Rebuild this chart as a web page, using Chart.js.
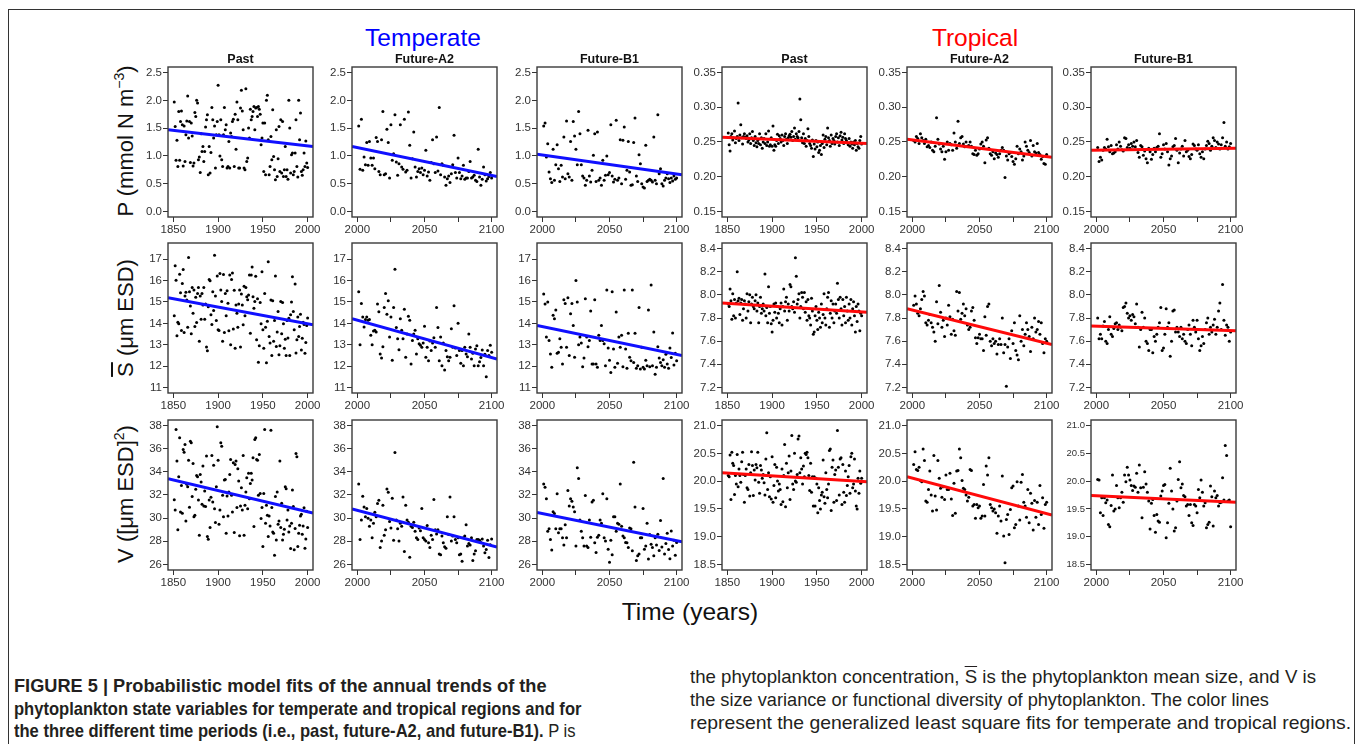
<!DOCTYPE html>
<html>
<head>
<meta charset="utf-8">
<script src="https://cdn.jsdelivr.net/npm/chart.js@4.4.1/dist/chart.umd.min.js"></script>
<style>
  html, body { margin: 0; padding: 0; background: #fff; }
  #fig { position: relative; width: 1357px; height: 744px; overflow: hidden; font-family: "Liberation Sans", Arial, sans-serif; }
  #fig canvas { position: absolute; }
  .frame { position: absolute; left: 8px; top: 9px; width: 1347px; height: 800px; border: 1.5px solid #333; box-sizing: border-box; }
  .txt { position: absolute; white-space: nowrap; transform: translate(-50%, -50%); }
  .region { font-size: 24.5px; }
  .ptitle { font-size: 12.5px; font-weight: bold; color: #111; }
  .ytitle { font-size: 22px; color: #111; transform: translate(-50%, -50%) rotate(-90deg); }
  .ytitle sup { font-size: 14px; vertical-align: 9px; line-height: 0; }
  .ov { text-decoration: overline; }
  .xtitle { font-size: 24.5px; color: #111; }
  .cap { position: absolute; white-space: nowrap; font-family: "Liberation Sans", Arial, sans-serif; font-size: 18.2px; color: #231f20; line-height: 22px; transform-origin: left center; }
  .cap b { font-weight: bold; }
</style>
</head>
<body>
<div id="fig">
  <div class="frame"></div>

  <div class="txt region" style="left:423px; top:38px; color:#0000ff;">Temperate</div>
  <div class="txt region" style="left:975px; top:38px; color:#ff0000;">Tropical</div>

  <div class="txt ytitle" style="left:126px; top:141px;">P (mmol N m<sup>−3</sup>)</div>
  <div class="txt ytitle" style="left:126px; top:318px;"><span class="ov">S</span> (μm ESD)</div>
  <div class="txt ytitle" style="left:126px; top:494px;">V ([μm ESD]<sup>2</sup>)</div>

  <div class="txt xtitle" style="left:690px; top:612px;">Time (years)</div>

  <div class="cap" style="left:14px; top:675px;"><b>FIGURE 5 | Probabilistic model fits of the annual trends of the</b></div>
  <div class="cap" style="left:14px; top:698px; transform: scaleX(0.91);"><b>phytoplankton state variables for temperate and tropical regions and for</b></div>
  <div class="cap" style="left:14px; top:720px; transform: scaleX(0.91);"><b>the three different time periods (i.e., past, future-A2, and future-B1).</b> P is</div>
  <div class="cap" style="left:690px; top:666px; transform: scaleX(1.025);">the phytoplankton concentration, <span class="ov">S</span> is the phytoplankton mean size, and V is</div>
  <div class="cap" style="left:690px; top:689px;">the size variance or functional diversity of phytoplankton. The color lines</div>
  <div class="cap" style="left:690px; top:712px; transform: scaleX(1.065);">represent the generalized least square fits for temperate and tropical regions.</div>
</div>

<script>
// ---- periods and axis ticks ----
const periods = ['Past', 'Future-A2', 'Future-B1'];
const pastStart = 1851;
const futureStart = 2001;
const pastRange = [1844, 2006];
const futureRange = [1996, 2104];
const pastTicks = [1850, 1900, 1950, 2000];
const futureTicks = [2000, 2025, 2050, 2075, 2100];
const futureLabels = [2000, 2050, 2100];

const tempPTicks = [0, 0.5, 1, 1.5, 2, 2.5];
const tropPTicks = [0.15, 0.2, 0.25, 0.3, 0.35];
const tempSTicks = [11, 12, 13, 14, 15, 16, 17];
const tropSTicks = [7.2, 7.4, 7.6, 7.8, 8.0, 8.2, 8.4];
const tempVTicks = [26, 28, 30, 32, 34, 36, 38];
const tropVTicks = [18.5, 19.0, 19.5, 20.0, 20.5, 21.0];

// ---- annual values, P (mmol N m-3) ----
const tempPPast = [
  1.97,1.53,0.92,1.28,0.81,1.80,0.92,1.62,1.81,1.56,
  0.82,1.54,0.90,1.38,1.63,2.08,1.32,1.62,0.88,1.59,
  1.36,0.82,0.87,1.78,1.71,2.00,1.95,0.93,0.98,0.70,
  1.40,1.08,1.17,0.90,1.08,1.52,1.65,1.74,0.66,1.17,
  0.69,1.06,1.87,1.65,1.32,1.54,0.78,1.38,1.62,2.27,
  1.38,1.00,1.65,0.93,0.81,1.38,1.87,1.47,1.56,0.78,
  0.81,1.26,0.78,1.41,1.35,1.62,1.66,0.81,1.75,1.12,
  1.97,1.65,0.78,0.78,1.86,2.18,1.81,1.47,0.78,0.75,
  2.21,0.90,0.96,1.50,1.32,1.84,1.65,1.71,1.80,1.89,
  1.47,1.86,1.87,1.71,1.89,1.84,1.75,1.20,1.32,1.59,
  0.72,1.59,0.66,2.00,2.09,1.29,0.66,0.81,1.35,0.93,
  1.83,0.99,0.75,0.57,1.47,0.63,0.95,1.53,0.72,1.65,
  0.69,1.62,0.63,0.75,1.17,0.63,0.75,0.58,2.00,1.50,
  0.69,1.02,1.05,0.66,0.72,1.05,1.65,0.81,0.62,2.00,
  1.29,1.77,0.72,0.65,0.75,1.05,0.81,1.27,0.87,0.79
];
const tempPA2 = [
  1.54,0.76,1.66,0.74,0.98,0.84,1.24,0.83,1.26,0.96,
  0.83,0.96,0.77,1.33,1.26,0.72,0.66,1.29,1.80,0.66,
  0.68,1.48,1.24,0.60,1.56,0.92,1.04,1.74,0.89,0.65,
  0.86,1.56,0.80,0.76,1.66,0.71,0.74,1.79,1.19,0.60,
  0.95,1.43,0.80,0.62,0.72,0.77,0.70,0.78,0.66,0.74,
  1.10,0.64,0.71,0.56,0.88,1.29,0.86,0.70,1.34,0.73,
  1.87,0.66,0.86,0.83,0.62,0.47,0.59,0.64,0.52,0.68,
  0.84,1.37,0.70,0.60,0.96,0.70,0.59,0.64,0.83,0.58,
  0.60,0.60,0.72,0.90,0.60,0.62,0.65,0.56,0.54,1.12,
  0.62,0.47,0.58,0.80,0.66,0.55,0.59,0.63,0.70,0.60
];
const tempPB1 = [
  1.54,1.59,0.98,1.22,0.71,0.59,0.52,1.12,0.56,0.84,
  1.20,0.77,0.54,0.83,0.62,1.34,0.59,1.63,0.68,0.62,
  1.26,0.56,1.62,1.36,1.12,0.84,1.80,1.40,0.84,0.64,
  0.60,0.47,0.56,1.46,0.64,0.53,0.74,1.01,1.40,0.54,
  1.43,0.56,0.60,0.47,0.92,0.56,0.65,1.00,0.66,0.70,
  1.56,0.64,0.53,0.58,1.64,0.56,0.60,1.29,0.50,1.28,
  1.52,0.58,0.74,1.26,0.71,0.47,0.48,1.24,1.68,0.64,
  0.54,1.02,0.86,0.50,0.44,0.42,1.19,0.54,0.56,0.58,
  0.56,0.53,1.34,0.56,0.50,1.74,0.68,0.77,0.50,0.46,
  0.56,0.60,0.68,0.59,0.52,0.60,0.55,0.64,0.58,0.60
];
const tropPPast = [
  0.263,0.246,0.237,0.258,0.262,0.253,0.256,0.266,0.249,0.255,
  0.258,0.306,0.252,0.260,0.275,0.256,0.247,0.258,0.262,0.257,
  0.255,0.259,0.250,0.253,0.262,0.248,0.256,0.265,0.252,0.245,
  0.258,0.249,0.243,0.252,0.248,0.262,0.246,0.256,0.241,0.250,
  0.255,0.248,0.262,0.245,0.250,0.266,0.244,0.246,0.256,0.244,
  0.273,0.238,0.246,0.244,0.252,0.261,0.248,0.259,0.255,0.250,
  0.260,0.252,0.245,0.258,0.262,0.254,0.248,0.256,0.259,0.261,
  0.257,0.265,0.252,0.258,0.270,0.254,0.262,0.258,0.256,0.265,
  0.312,0.282,0.256,0.249,0.262,0.248,0.255,0.244,0.252,0.269,
  0.258,0.248,0.245,0.241,0.253,0.229,0.247,0.240,0.252,0.243,
  0.250,0.235,0.238,0.245,0.232,0.248,0.260,0.242,0.254,0.258,
  0.246,0.270,0.256,0.252,0.244,0.260,0.248,0.255,0.252,0.247,
  0.258,0.262,0.250,0.256,0.245,0.259,0.264,0.253,0.257,0.248,
  0.262,0.255,0.252,0.249,0.246,0.255,0.244,0.250,0.247,0.241,
  0.250,0.246,0.252,0.238,0.248,0.243,0.241,0.252,0.258,0.247
];
const tropPA2 = [
  0.252,0.250,0.258,0.255,0.248,0.262,0.256,0.252,0.248,0.254,
  0.243,0.245,0.242,0.250,0.238,0.236,0.244,0.285,0.254,0.247,
  0.240,0.236,0.244,0.225,0.236,0.250,0.238,0.248,0.246,0.238,
  0.263,0.250,0.241,0.280,0.248,0.256,0.258,0.247,0.243,0.250,
  0.244,0.245,0.250,0.244,0.233,0.232,0.238,0.231,0.233,0.240,
  0.247,0.250,0.244,0.220,0.253,0.256,0.241,0.233,0.231,0.236,
  0.226,0.234,0.232,0.228,0.233,0.238,0.242,0.238,0.199,0.230,
  0.224,0.233,0.235,0.229,0.222,0.218,0.226,0.244,0.233,0.240,
  0.236,0.224,0.230,0.250,0.244,0.238,0.235,0.252,0.230,0.245,
  0.236,0.234,0.248,0.235,0.232,0.225,0.229,0.219,0.218,0.232
];
const tropPB1 = [
  0.242,0.222,0.228,0.224,0.238,0.242,0.240,0.254,0.243,0.236,
  0.245,0.233,0.234,0.236,0.246,0.240,0.250,0.244,0.239,0.237,
  0.256,0.255,0.242,0.246,0.241,0.248,0.244,0.250,0.243,0.252,
  0.235,0.228,0.245,0.243,0.231,0.237,0.226,0.220,0.241,0.236,
  0.225,0.232,0.241,0.236,0.242,0.244,0.262,0.228,0.233,0.246,
  0.240,0.248,0.236,0.217,0.226,0.230,0.243,0.245,0.255,0.238,
  0.220,0.234,0.240,0.244,0.230,0.252,0.236,0.238,0.229,0.226,
  0.232,0.247,0.245,0.240,0.238,0.246,0.233,0.228,0.236,0.226,
  0.240,0.245,0.251,0.248,0.238,0.244,0.256,0.252,0.242,0.250,
  0.247,0.240,0.246,0.256,0.278,0.244,0.250,0.240,0.243,0.248
];

// ---- annual values, mean size S (um ESD) ----
const tempSPast = [
  14.35,16.69,16.02,13.42,14.05,13.98,16.30,15.43,13.67,15.87,
  16.52,13.57,15.28,15.45,15.09,13.82,17.08,15.48,14.81,13.51,
  15.68,14.47,15.56,13.85,15.22,14.04,15.40,15.68,13.16,15.28,
  14.19,15.40,14.86,15.68,14.19,14.90,12.89,12.72,14.78,16.05,
  15.99,14.40,13.95,15.48,14.60,17.19,15.28,14.13,16.21,13.70,
  13.67,16.33,15.56,15.02,13.16,16.28,13.57,15.40,14.35,15.53,
  14.94,13.65,16.26,13.00,16.05,16.36,13.73,15.55,12.84,14.86,
  14.47,13.82,14.90,15.56,12.89,15.37,14.86,13.93,15.74,14.35,
  15.68,15.25,15.10,15.33,16.26,13.54,16.26,16.64,15.25,14.71,
  15.02,16.20,13.23,15.15,12.18,12.95,14.97,13.98,16.41,13.70,
  12.84,15.40,13.82,12.15,14.10,16.88,13.39,13.08,15.09,12.49,
  15.06,13.16,14.13,16.21,12.92,13.60,14.55,12.53,12.95,15.02,
  13.51,14.97,13.98,12.84,13.25,12.49,14.13,13.31,14.24,12.49,
  14.40,15.00,16.18,14.55,13.70,15.84,12.61,13.23,14.30,13.39,
  13.85,14.42,12.75,13.30,14.05,13.95,12.60,13.10,13.90,14.25
];
const tempSA2 = [
  15.48,13.00,14.93,14.30,13.83,14.18,14.30,14.14,14.18,13.44,
  13.00,13.64,13.68,13.60,14.90,14.54,12.57,12.38,12.91,14.74,
  15.40,14.43,15.06,13.36,14.30,12.27,14.74,16.53,13.80,13.28,
  12.76,14.22,13.68,13.28,14.66,12.41,13.50,14.33,14.14,12.10,
  13.20,13.50,13.68,12.57,13.28,13.04,12.97,12.88,13.08,13.86,
  12.41,12.88,12.25,13.17,12.73,13.08,13.33,12.88,14.74,13.80,
  12.25,13.36,12.02,13.08,11.82,12.73,12.44,12.25,12.41,13.75,
  12.88,14.82,12.85,12.49,14.00,12.73,12.13,12.73,12.02,12.88,
  12.57,12.44,13.50,12.88,12.33,12.60,12.02,12.80,12.95,12.02,
  12.20,12.40,12.75,12.02,12.55,11.50,12.73,12.49,12.97,12.65
];
const tempSB1 = [
  15.37,14.90,13.36,15.00,13.20,12.57,11.94,14.38,14.22,14.62,
  12.60,12.65,13.28,12.88,12.10,15.10,14.93,12.88,15.20,12.49,
  14.45,14.93,13.90,12.41,16.00,15.00,13.00,13.36,13.08,11.97,
  12.38,15.15,13.36,12.91,13.20,14.58,12.10,12.10,15.10,12.10,
  11.94,13.44,13.20,13.90,13.20,13.04,12.02,15.56,12.85,12.27,
  11.70,15.48,12.80,11.94,14.53,12.13,13.36,12.88,13.44,11.97,
  15.56,12.80,11.90,13.54,12.41,12.25,15.56,12.17,13.54,11.90,
  12.02,14.74,11.86,12.88,11.94,11.86,12.27,12.02,14.62,11.97,
  15.79,12.02,13.60,11.62,11.94,12.91,12.38,12.17,12.02,12.30,
  11.95,12.55,12.10,11.90,12.85,12.40,13.55,12.05,12.60,12.25
];
const tropSPast = [
  7.92,7.90,8.05,7.95,7.79,8.01,7.82,7.96,7.80,7.93,
  8.20,7.95,7.97,7.83,7.93,7.96,7.78,7.88,7.95,7.92,
  7.80,8.01,7.86,7.94,8.00,7.76,7.92,7.98,7.90,7.88,
  7.95,8.00,7.86,7.93,7.76,7.90,7.98,7.84,7.88,7.92,
  7.86,8.18,7.82,7.89,7.76,8.07,7.84,7.90,7.75,7.68,
  7.78,7.92,7.85,7.93,7.80,7.90,7.84,7.76,7.88,7.93,
  7.74,7.90,8.05,7.86,7.94,7.98,7.78,7.92,7.86,8.09,
  8.07,7.90,7.88,7.94,7.85,8.32,8.16,7.92,7.96,8.01,
  7.80,7.90,8.02,7.98,7.88,8.02,7.85,7.94,7.78,7.96,
  7.82,7.80,7.74,7.97,7.86,7.66,7.68,7.82,7.90,7.78,
  7.70,7.85,7.80,7.72,7.92,7.76,7.83,8.01,7.80,7.74,
  7.88,7.98,8.02,7.72,7.84,7.95,7.80,7.92,7.76,7.86,
  7.92,7.84,8.10,7.96,7.80,7.98,7.88,7.74,7.96,7.82,
  7.90,7.76,7.98,7.86,7.78,7.92,7.80,7.96,7.74,7.88,
  7.94,7.82,7.68,7.90,7.77,7.92,7.86,7.69,7.84,7.82
];
const tropSA2 = [
  7.91,7.99,7.92,7.84,7.82,7.88,7.96,8.03,7.99,7.76,
  7.74,7.78,7.83,7.76,7.72,7.68,7.60,7.94,7.75,8.08,
  7.85,7.72,7.78,7.64,7.80,7.74,7.91,7.81,7.66,7.79,
  7.69,7.65,8.03,7.86,8.02,7.79,7.84,7.92,7.82,7.88,
  7.74,7.70,7.72,7.86,7.89,7.78,7.63,7.58,7.63,7.66,
  7.62,7.62,7.52,7.81,7.65,7.90,7.92,7.60,7.56,7.62,
  7.58,7.60,7.49,7.57,7.62,7.57,7.80,7.50,7.57,7.21,
  7.55,7.62,7.45,7.69,7.58,7.76,7.52,7.48,7.44,7.82,
  7.60,7.70,7.56,7.66,7.76,7.70,7.64,7.51,7.72,7.62,
  7.80,7.68,7.70,7.77,7.66,7.76,7.58,7.50,7.62,7.60
];
const tropSB1 = [
  7.80,7.62,7.66,7.62,7.73,7.77,7.60,7.58,7.70,7.81,
  7.66,7.64,7.71,7.75,7.76,7.70,7.74,7.72,7.69,7.89,
  7.90,7.93,7.84,7.80,7.82,7.78,7.83,7.81,7.75,7.92,
  7.72,7.55,7.70,7.85,7.72,7.80,7.60,7.58,7.52,7.70,
  7.70,7.50,7.64,7.60,7.66,7.72,7.76,7.89,7.52,7.54,
  7.66,7.88,7.72,7.76,7.47,7.60,7.86,7.87,7.68,7.72,
  7.68,7.64,7.72,7.62,7.66,7.60,7.58,7.70,7.74,7.66,
  7.56,7.78,7.72,7.68,7.78,7.62,7.52,7.56,7.64,7.58,
  7.70,7.76,7.80,7.66,7.72,7.68,7.74,7.79,7.66,7.72,
  7.86,7.93,7.70,8.09,7.78,7.65,7.74,7.72,7.60,7.68
];

// ---- annual values, size variance V ([um ESD]^2) ----
const tempVPast = [
  31.60,30.70,37.66,34.93,28.99,33.58,36.94,30.54,32.83,30.42,
  35.93,35.70,36.36,29.76,32.92,32.72,35.01,30.95,36.65,36.51,
  31.86,34.73,30.13,30.25,32.49,33.69,33.58,31.57,28.53,33.78,
  33.12,31.20,34.50,31.05,32.35,31.00,35.36,28.41,28.18,31.57,
  29.19,31.80,35.42,31.40,34.56,30.82,29.62,32.72,37.89,35.01,
  29.47,30.70,36.51,36.22,31.97,30.13,33.29,33.35,28.70,31.91,
  30.19,32.26,33.78,35.07,31.97,30.54,34.79,28.76,34.64,34.93,
  30.91,34.27,33.20,28.47,31.05,32.63,30.70,35.42,28.53,31.11,
  32.26,33.49,30.82,33.87,31.68,33.00,33.87,33.29,35.22,29.27,
  36.80,36.94,35.07,35.01,31.97,35.50,32.14,29.96,30.91,27.55,
  32.14,37.66,29.56,31.11,30.25,28.41,30.19,29.33,37.60,30.91,
  28.81,28.70,26.80,31.86,28.12,32.26,29.47,29.76,34.93,29.19,
  31.28,28.12,28.61,29.04,32.72,32.55,29.85,30.70,28.81,29.33,
  27.38,29.56,32.43,31.00,27.26,29.10,35.59,35.30,27.55,28.70,
  29.39,30.19,30.34,28.61,29.33,30.90,27.40,28.20,30.60,29.20
];
const tempVA2 = [
  32.94,28.16,29.85,31.90,30.97,30.13,30.83,29.99,29.29,29.85,
  28.30,29.57,30.50,30.13,31.26,31.54,27.46,28.02,31.12,28.53,
  29.00,32.52,32.24,29.71,29.15,31.73,28.08,35.67,29.85,29.09,
  28.02,29.57,29.29,31.82,27.12,31.12,29.85,29.65,26.62,29.29,
  29.20,29.65,28.87,28.30,28.16,29.15,28.92,30.83,28.30,28.16,
  28.02,29.37,27.88,27.46,28.53,28.16,31.62,29.00,28.64,29.00,
  26.90,26.84,28.45,27.88,27.52,27.41,30.13,28.59,31.82,28.02,
  28.45,30.13,28.16,27.88,28.30,26.84,26.90,26.28,28.30,28.45,
  29.43,27.60,27.80,27.69,28.30,26.34,26.90,27.18,28.16,28.16,
  28.08,27.90,28.20,27.60,27.00,27.30,28.10,26.60,27.70,28.20
];
const tempVB1 = [
  32.94,32.66,31.68,28.87,29.09,28.16,27.24,30.55,30.41,29.09,
  32.10,28.73,29.09,29.09,28.30,27.69,29.43,28.30,32.38,31.06,
  31.68,31.45,30.97,30.55,27.60,34.35,33.42,29.85,28.87,28.30,
  27.60,31.96,27.60,27.46,29.85,28.36,31.40,31.54,27.88,27.04,
  28.36,28.53,29.85,29.57,32.10,28.30,28.02,31.68,27.32,26.20,
  28.08,26.84,30.13,30.13,28.87,29.57,29.48,32.94,29.29,28.45,
  28.30,27.90,27.88,27.46,29.15,29.09,27.18,34.82,30.97,26.34,
  26.76,26.90,28.30,28.30,30.83,27.32,27.60,29.57,26.48,28.59,
  27.74,27.46,26.76,28.30,27.69,28.60,27.20,29.80,27.50,33.42,
  26.90,27.80,28.70,27.30,26.50,28.90,27.60,28.10,26.80,27.90
];
const tropVPast = [
  20.10,20.08,20.47,19.67,20.52,20.32,20.28,19.76,20.10,19.95,
  20.48,19.90,20.22,20.10,19.98,20.35,20.52,20.12,19.62,20.10,
  20.22,19.88,19.85,20.30,19.73,20.15,20.53,20.28,19.74,20.20,
  20.02,20.30,20.24,20.52,19.98,19.78,20.28,20.20,20.05,20.12,
  19.97,19.75,20.40,20.87,19.85,20.15,19.72,20.08,19.68,20.44,
  19.62,19.92,20.30,19.70,20.25,20.00,19.82,19.95,19.85,19.58,
  20.22,19.63,20.10,20.66,19.54,20.32,19.88,20.15,20.45,19.67,
  20.18,20.82,19.95,19.85,20.50,20.00,19.98,20.12,20.76,20.81,
  20.15,20.42,20.22,19.95,20.27,20.08,20.50,20.48,20.52,20.42,
  20.10,19.83,20.32,19.80,20.08,19.55,20.08,19.55,20.05,19.95,
  19.43,19.88,19.65,19.50,19.75,19.80,20.38,19.72,19.60,20.15,
  19.85,19.70,19.95,20.55,20.58,19.47,20.25,20.38,19.62,20.12,
  20.20,19.65,20.91,20.25,19.75,20.40,20.42,19.58,20.30,19.80,
  19.62,20.18,19.74,19.92,20.08,20.28,19.78,20.44,20.50,19.88,
  19.95,20.40,19.82,19.55,19.50,20.05,19.78,20.18,19.96,20.05
];
const tropVA2 = [
  20.30,20.53,20.21,20.19,20.25,20.01,19.99,20.58,20.37,19.64,
  19.62,19.85,20.18,19.75,19.46,20.46,19.73,19.48,20.37,20.05,
  19.87,19.71,19.90,19.67,20.11,19.85,19.85,20.14,19.68,19.38,
  19.96,19.42,20.18,20.19,20.58,20.42,20.01,19.87,19.85,19.75,
  19.64,19.71,20.21,20.19,19.55,19.58,19.33,19.58,19.52,19.55,
  19.33,19.37,19.94,19.37,20.27,20.11,20.42,19.58,19.52,19.46,
  19.50,19.43,19.06,19.37,19.55,19.28,20.09,19.01,18.53,19.31,
  19.40,19.04,19.49,19.88,19.91,19.16,19.22,19.99,19.55,19.30,
  19.98,20.12,19.62,19.55,19.35,19.85,19.25,19.78,19.60,19.12,
  19.65,19.35,19.62,19.22,19.92,19.40,19.70,19.15,19.58,19.62
];
const tropVB1 = [
  20.03,20.02,19.43,19.70,19.38,19.70,19.61,19.66,19.22,19.18,
  19.56,20.11,19.46,19.50,19.92,19.70,19.52,19.70,19.80,19.62,
  20.11,19.99,20.25,20.11,20.02,19.92,19.83,19.91,19.89,20.14,
  19.80,20.29,19.88,19.34,19.89,20.17,19.95,19.80,19.64,19.14,
  19.60,19.67,19.38,19.08,19.40,19.28,19.26,19.73,19.82,19.92,
  19.94,18.98,19.25,19.60,20.23,19.82,19.50,19.10,19.16,19.64,
  20.03,20.35,19.88,19.95,19.74,19.72,19.55,19.58,19.38,19.58,
  19.25,19.20,19.58,19.55,19.43,19.85,19.70,20.02,19.80,19.55,
  19.61,19.16,19.22,19.26,19.91,19.72,19.19,19.82,19.70,19.74,
  19.55,19.61,19.62,20.06,19.66,20.64,20.46,19.64,19.66,19.18
];

// ---- GLS trend lines: value at the left and right edge of each panel ----
const tempPFits = [[1.47, 1.17], [1.17, 0.63], [1.03, 0.66]];
const tropPFits = [[0.257, 0.248], [0.254, 0.228], [0.238, 0.241]];
const tempSFits = [[15.20, 13.93], [14.22, 12.33], [13.90, 12.49]];
const tropSFits = [[7.93, 7.85], [7.88, 7.57], [7.73, 7.69]];
const tempVFits = [[33.40, 30.45], [30.80, 27.50], [30.50, 27.95]];
const tropVFits = [[20.15, 19.99], [20.08, 19.39], [19.74, 19.62]];

// ---- layout ----
const colX = [168, 352, 537, 722, 907, 1091];
const rowY = [67, 243, 420];
const BOX_W = 145, BOX_H = 150;
const AXIS_W = 50, AXIS_H = 24, PAD_T = 8, PAD_R = 18;
const BLUE = '#1010ff', RED = '#ff0a0a';

const rows = [
  { temp: [tempPPast, tempPA2, tempPB1], trop: [tropPPast, tropPA2, tropPB1],
    tempFits: tempPFits, tropFits: tropPFits,
    tempAxis: { ticks: tempPTicks, min: -0.1, max: 2.6, dec: 1 },
    tropAxis: { ticks: tropPTicks, min: 0.142, max: 0.358, dec: 2 } },
  { temp: [tempSPast, tempSA2, tempSB1], trop: [tropSPast, tropSA2, tropSB1],
    tempFits: tempSFits, tropFits: tropSFits,
    tempAxis: { ticks: tempSTicks, min: 10.74, max: 17.76, dec: 0 },
    tropAxis: { ticks: tropSTicks, min: 7.152, max: 8.448, dec: 1 } },
  { temp: [tempVPast, tempVA2, tempVB1], trop: [tropVPast, tropVA2, tropVB1],
    tempFits: tempVFits, tropFits: tropVFits,
    tempAxis: { ticks: tempVTicks, min: 25.52, max: 38.48, dec: 0 },
    tropAxis: { ticks: tropVTicks, min: 18.4, max: 21.1, dec: 1 } }
];

Chart.defaults.font.family = '"Liberation Sans", Arial, sans-serif';
Chart.defaults.color = '#333';

// R-style frame around the plotting region
const boxPlugin = {
  id: 'plotBox',
  afterDraw(chart) {
    const { ctx, chartArea: a } = chart;
    ctx.save();
    ctx.strokeStyle = '#3a3a3a';
    ctx.lineWidth = 1.4;
    ctx.strokeRect(a.left, a.top, a.right - a.left, a.bottom - a.top);
    ctx.restore();
  }
};

const fig = document.getElementById('fig');

function drawPanel(row, col, values, fit, axis, color, yFontSize) {
  const past = (col % 3) === 0;
  const start = past ? pastStart : futureStart;
  const xr = past ? pastRange : futureRange;
  const xt = past ? pastTicks : futureTicks;

  const canvas = document.createElement('canvas');
  canvas.width = AXIS_W + BOX_W + PAD_R;
  canvas.height = PAD_T + BOX_H + AXIS_H;
  canvas.style.left = (colX[col] - AXIS_W) + 'px';
  canvas.style.top = (rowY[row] - PAD_T) + 'px';
  fig.appendChild(canvas);

  const points = values.map((v, i) => ({ x: start + i, y: v }));
  const trend = [{ x: xr[0], y: fit[0] }, { x: xr[1], y: fit[1] }];

  new Chart(canvas, {
    type: 'scatter',
    data: {
      datasets: [
        { type: 'line', data: trend, borderColor: color, borderWidth: 3,
          pointRadius: 0, fill: false, tension: 0 },
        { data: points, backgroundColor: '#000', borderWidth: 0,
          pointRadius: 1.5, pointHoverRadius: 1.5 }
      ]
    },
    options: {
      responsive: false,
      animation: false,
      events: [],
      layout: { padding: { top: PAD_T, right: PAD_R, left: 0, bottom: 0 } },
      plugins: { legend: { display: false }, tooltip: { enabled: false } },
      scales: {
        x: {
          type: 'linear', min: xr[0], max: xr[1],
          afterBuildTicks: s => { s.ticks = xt.map(v => ({ value: v })); },
          afterFit: s => { s.height = AXIS_H; },
          border: { display: false },
          grid: { drawOnChartArea: false, drawTicks: true, tickLength: 5, color: '#333', lineWidth: 1 },
          ticks: {
            autoSkip: false, maxRotation: 0, padding: 1, color: '#333',
            font: { size: 11.5 },
            callback: v => (past || futureLabels.includes(v)) ? String(v) : ''
          }
        },
        y: {
          type: 'linear', min: axis.min, max: axis.max,
          afterBuildTicks: s => { s.ticks = axis.ticks.map(v => ({ value: v })); },
          afterFit: s => { s.width = AXIS_W; },
          border: { display: false },
          grid: { drawOnChartArea: false, drawTicks: true, tickLength: 5, color: '#333', lineWidth: 1 },
          ticks: {
            autoSkip: false, padding: 1, color: '#333',
            font: { size: yFontSize },
            callback: v => Number(v).toFixed(axis.dec)
          }
        }
      }
    },
    plugins: [boxPlugin]
  });
}

rows.forEach((r, row) => {
  for (let p = 0; p < 3; p++) {
    drawPanel(row, p, r.temp[p], r.tempFits[p], r.tempAxis, BLUE, 11.5);
    const small = (row === 2 && p === 2) ? 9.5 : 11.5;
    drawPanel(row, p + 3, r.trop[p], r.tropFits[p], r.tropAxis, RED, small);
  }
});

// period titles above the first row
colX.forEach((x, i) => {
  const t = document.createElement('div');
  t.className = 'txt ptitle';
  t.style.left = (x + BOX_W / 2) + 'px';
  t.style.top = '59px';
  t.textContent = periods[i % 3];
  fig.appendChild(t);
});
</script>
</body>
</html>
